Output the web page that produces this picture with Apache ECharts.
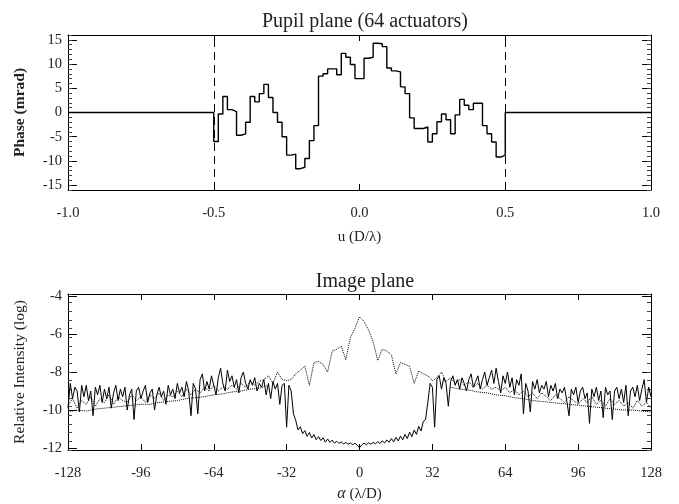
<!DOCTYPE html>
<html lang="en">
<head>
  <meta charset="UTF-8">
  <title>Pupil plane / Image plane</title>
  <script src="https://cdn.jsdelivr.net/npm/echarts@6.0.0/dist/echarts.min.js"></script>
  <style>
    body { margin: 0; background: #fff; }
    #chart { width: 679px; height: 504px; }
  </style>
</head>
<body>
  <div id="chart"></div>
  <script>
    // pupil plane: phase (mrad) of the 64 actuators between u = -0.5 and 0.5
    const phaseSteps = [
      -6.0, -0.3, 3.3, 0.6, 0.2, -4.7, -4.4, -2.0,
      3.3, 2.2, 3.9, 5.8, 3.1, 0.0, -2.0, -5.0,
      -8.8, -8.6, -11.6, -11.3, -9.5, -5.8, -2.7, 7.5,
      8.0, 9.0, 9.0, 7.8, 12.2, 11.4, 9.9, 7.0,
      7.0, 11.2, 11.4, 14.3, 14.2, 13.6, 9.2, 8.6,
      8.4, 5.3, 3.9, -1.1, -3.3, -3.3, -3.0, -6.1,
      -4.4, -1.9, -0.3, -1.5, -4.4, -0.5, 2.7, 1.5,
      0.6, 1.9, 1.9, -2.7, -4.4, -6.1, -9.2, -8.8
    ];
    const pupilEdge = 0.5;
    const pupilTicks = [-15, -10, -5, 0, 5, 10, 15];

    // image plane: log relative intensity, alpha from -128 to 128 in steps of 1
    const corrected = [
      -9.9, -8.6, -9.4, -8.8, -9.0, -10.1, -8.7, -9.3,
      -8.7, -9.5, -9.0, -10.3, -8.8, -9.2, -8.7, -9.6,
      -8.9, -9.4, -8.8, -9.9, -9.1, -8.7, -9.5, -8.9,
      -9.3, -8.8, -10.0, -9.2, -8.9, -10.5, -9.0, -8.8,
      -9.4, -9.0, -8.7, -9.6, -9.1, -8.9, -10.0, -9.2,
      -8.8, -9.3, -9.0, -9.7, -8.7, -9.2, -8.9, -9.4,
      -8.6, -9.1, -8.8, -9.3, -8.5, -9.0, -10.3, -8.6,
      -8.9, -10.2, -8.4, -8.1, -9.0, -8.5, -8.9, -8.2,
      -8.7, -9.2, -8.3, -7.8, -8.6, -9.0, -7.9, -8.5,
      -8.2, -8.8, -8.4, -9.1, -8.3, -8.0, -8.6, -8.9,
      -8.4, -8.7, -8.3, -9.0, -8.6, -8.8, -8.4, -9.2,
      -8.6, -9.4, -8.5, -8.9, -8.6, -9.7, -8.7, -8.6,
      // -32 .. 32
      -10.9, -8.7, -9.0, -10.2, -10.55, -11.05, -10.88, -11.24,
      -11.08, -11.38, -11.18, -11.47, -11.29, -11.56, -11.40, -11.60,
      -11.46, -11.69, -11.52, -11.70, -11.58, -11.74, -11.64, -11.76,
      -11.67, -11.79, -11.70, -11.80, -11.73, -11.82, -11.75, -11.84,
      -11.98,
      -11.83, -11.74, -11.82, -11.72, -11.80, -11.69, -11.78, -11.66,
      -11.76, -11.62, -11.73, -11.57, -11.70, -11.50, -11.67, -11.44,
      -11.62, -11.37, -11.56, -11.28, -11.50, -11.16, -11.40, -11.05,
      -11.28, -10.86, -11.10, -10.60, -10.5, -9.6, -8.6, -8.8,
      // 33 .. 128
      -10.9, -8.4, -8.2, -8.9, -8.3, -8.6, -9.8, -8.5,
      -8.2, -8.7, -8.4, -8.9, -8.3, -8.6, -9.0, -8.4,
      -8.1, -8.8, -8.5, -8.2, -8.9, -8.4, -8.0, -8.7,
      -8.3, -7.9, -8.6, -7.8, -8.5, -9.1, -8.2, -8.6,
      -8.0, -8.8, -8.3, -9.2, -8.4, -8.7, -8.1, -10.2,
      -8.6, -9.0, -10.1, -8.5, -8.9, -8.4, -9.1, -8.7,
      -8.9, -8.5, -9.3, -8.7, -9.0, -8.6, -9.4, -8.9,
      -9.1, -8.8, -9.5, -10.3, -8.9, -9.2, -8.8, -9.6,
      -9.0, -8.8, -9.4, -9.1, -10.7, -8.9, -9.3, -8.8,
      -9.5, -9.0, -10.4, -8.8, -9.2, -9.0, -10.5, -9.0,
      -8.8, -9.4, -8.9, -9.6, -8.7, -10.3, -9.0, -8.8,
      -9.3, -8.7, -9.5, -8.9, -8.4, -9.6, -8.8, -9.3
    ];
    // dotted curve with the central peak, alpha from -128 to 128 in steps of 2
    const uncorrected = [
      -9.8, -9.4, -9.9, -9.5, -9.7, -9.3, -9.8, -9.4, -9.6, -9.2, -9.7, -9.3,
      -9.5, -9.6, -9.2, -9.5, -9.3, -9.6, -9.2, -9.4, -9.1, -9.5, -9.2, -9.3,
      -9.0, -9.3, -8.9, -9.2, -8.9, -9.1, -8.8, -9.0, -8.7, -9.0, -8.8, -8.9,
      -8.7, -8.9, -8.6, -8.8, -8.5, -8.7, -8.5, -8.4, -8.2, -8.6, -8.0, -8.4,
      -8.45, -8.4, -8.1, -7.9, -7.7, -8.7, -7.5, -7.45, -7.6, -8.0, -6.9, -6.8,
      -6.65, -7.35, -6.2, -5.7, -5.1, -5.35, -5.8, -6.4, -7.4, -6.8, -6.9, -7.1,
      -8.1, -7.5, -7.6, -7.7, -8.6, -7.95, -8.1, -8.2, -8.45,
      -8.3, -8.0, -8.5, -8.3, -8.6, -8.4, -8.7, -8.5, -8.8, -8.6, -8.9, -8.7,
      -8.9, -8.8, -9.0, -8.8, -9.1, -8.9, -9.2, -9.0, -9.3, -9.1, -9.4, -9.1,
      -9.3, -9.5, -9.2, -9.4, -9.6, -9.3, -9.5, -9.7, -9.4, -9.6, -9.3, -9.7,
      -9.5, -9.8, -9.4, -9.7, -9.5, -9.8, -9.6, -9.9, -9.5, -9.8, -9.6, -9.9
    ];
    // lower dotted envelope in the wings, steps of 4
    const lowerLeftX = [-128, -124, -120, -116, -112, -108, -104, -100, -96, -92, -88, -84,
      -80, -76, -72, -68, -64, -60, -56, -52, -48, -44, -40];
    const lowerLeft = [-10.1, -10.0, -10.05, -9.95, -9.9, -9.85, -9.8, -9.75, -9.7, -9.7, -9.6, -9.55,
      -9.5, -9.4, -9.35, -9.3, -9.2, -9.15, -9.05, -9.0, -8.9, -8.85, -8.7];
    const lowerRightX = [40, 44, 48, 52, 56, 60, 64, 68, 72, 76, 80, 84,
      88, 92, 96, 100, 104, 108, 112, 116, 120, 124, 128];
    const lowerRight = [-8.8, -8.9, -8.95, -9.05, -9.1, -9.2, -9.25, -9.35, -9.4, -9.5, -9.55, -9.6,
      -9.65, -9.7, -9.75, -9.8, -9.85, -9.9, -9.95, -10.0, -10.0, -10.05, -10.1];
    const imageTicks = [-12, -10, -8, -6, -4];

    const font = 'Liberation Serif';
    const ink = '#000';

    // step line: left edge of every actuator
    const pupilData = [[-1, 0]];
    phaseSteps.forEach((v, i) => pupilData.push([-pupilEdge + i / phaseSteps.length, v]));
    pupilData.push([pupilEdge, 0], [1, 0]);

    const solidData = corrected.map((v, i) => [-128 + i, v]);
    const dotData = uncorrected.map((v, i) => [-128 + 2 * i, v]);
    const zip = (xs, ys) => xs.map((x, i) => [x, ys[i]]);

    function xAx(grid, pos, min, max, interval, labels, fmt) {
      return {
        type: 'value', gridIndex: grid, position: pos, min: min, max: max, interval: interval,
        axisLine: { onZero: false, lineStyle: { color: ink, width: 1 } },
        axisTick: { inside: true, length: 6, lineStyle: { color: ink } },
        axisLabel: { show: labels, margin: 16, fontFamily: font, fontSize: 14.5, color: '#222', formatter: fmt },
        splitLine: { show: false }
      };
    }
    function yMajor(grid, pos, min, max, ticks, labels) {
      return {
        type: 'value', gridIndex: grid, position: pos, min: min, max: max,
        axisLine: { onZero: false, lineStyle: { color: ink, width: 1 } },
        axisTick: { inside: true, length: 9, customValues: ticks, lineStyle: { color: ink } },
        axisLabel: { show: labels, customValues: ticks, margin: 6, fontFamily: font, fontSize: 14.5, color: '#222' },
        splitLine: { show: false }
      };
    }
    function yMinor(grid, pos, min, max, interval) {
      return {
        type: 'value', gridIndex: grid, position: pos, min: min, max: max, interval: interval,
        axisLine: { show: false, onZero: false },
        axisTick: { inside: true, length: 4, lineStyle: { color: '#444' } },
        axisLabel: { show: false },
        splitLine: { show: false }
      };
    }

    const chart = echarts.init(document.getElementById('chart'));
    chart.setOption({
      animation: false,
      backgroundColor: '#fff',
      title: [
        { text: 'Pupil plane (64 actuators)', left: 360, top: 7, textAlign: 'center',
          textStyle: { fontFamily: font, fontSize: 20, fontWeight: 'normal', color: '#222' } },
        { text: 'Image plane', left: 360, top: 267, textAlign: 'center',
          textStyle: { fontFamily: font, fontSize: 20, fontWeight: 'normal', color: '#222' } }
      ],
      grid: [
        { left: 68, right: 28, top: 35, height: 155 },
        { left: 68, right: 28, top: 294, height: 156 }
      ],
      xAxis: [
        Object.assign(xAx(0, 'bottom', -1, 1, 0.5, true, v => v.toFixed(1)),
          { name: 'u (D/λ)', nameLocation: 'middle', nameGap: 40,
            nameTextStyle: { fontFamily: font, fontSize: 15, color: '#222' } }),
        xAx(0, 'top', -1, 1, 0.5, false),
        Object.assign(xAx(1, 'bottom', -128, 128, 32, true, v => String(v)),
          { name: '{a|α} (λ/D)', nameLocation: 'middle', nameGap: 36,
            nameTextStyle: { fontFamily: font, fontSize: 15, color: '#222',
              rich: { a: { fontFamily: font, fontSize: 16, fontStyle: 'italic', color: '#222' } } } }),
        xAx(1, 'top', -128, 128, 32, false)
      ],
      yAxis: [
        Object.assign(yMajor(0, 'left', -16, 16, pupilTicks, true),
          { name: 'Phase (mrad)', nameLocation: 'middle', nameGap: 40,
            nameTextStyle: { fontFamily: font, fontSize: 15.5, fontWeight: 'bold', color: '#222' } }),
        yMinor(0, 'left', -16, 16, 1),
        yMajor(0, 'right', -16, 16, pupilTicks, false),
        yMinor(0, 'right', -16, 16, 1),
        Object.assign(yMajor(1, 'left', -12.1, -3.9, imageTicks, true),
          { name: 'Relative Intensity (log)', nameLocation: 'middle', nameGap: 40,
            nameTextStyle: { fontFamily: font, fontSize: 15.5, color: '#222' } }),
        yMinor(1, 'left', -12.5, -3.5, 0.5),
        yMajor(1, 'right', -12.1, -3.9, imageTicks, false),
        yMinor(1, 'right', -12.5, -3.5, 0.5)
      ],
      series: [
        {
          type: 'line', xAxisIndex: 0, yAxisIndex: 0, data: pupilData, step: 'end',
          showSymbol: false, lineStyle: { color: ink, width: 1.4 },
          markLine: {
            silent: true, symbol: 'none', label: { show: false },
            lineStyle: { color: ink, width: 1, type: [8, 5] },
            data: [{ xAxis: -pupilEdge }, { xAxis: pupilEdge }]
          }
        },
        {
          type: 'line', xAxisIndex: 2, yAxisIndex: 4, data: zip(lowerLeftX, lowerLeft),
          showSymbol: false, lineStyle: { color: ink, width: 1, type: 'dotted' }
        },
        {
          type: 'line', xAxisIndex: 2, yAxisIndex: 4, data: zip(lowerRightX, lowerRight),
          showSymbol: false, lineStyle: { color: ink, width: 1, type: 'dotted' }
        },
        {
          type: 'line', xAxisIndex: 2, yAxisIndex: 4, data: dotData,
          showSymbol: false, lineStyle: { color: ink, width: 1, type: 'dotted' }
        },
        {
          type: 'line', xAxisIndex: 2, yAxisIndex: 4, data: solidData,
          showSymbol: false, lineStyle: { color: ink, width: 1 }
        }
      ]
    });
  </script>
</body>
</html>
